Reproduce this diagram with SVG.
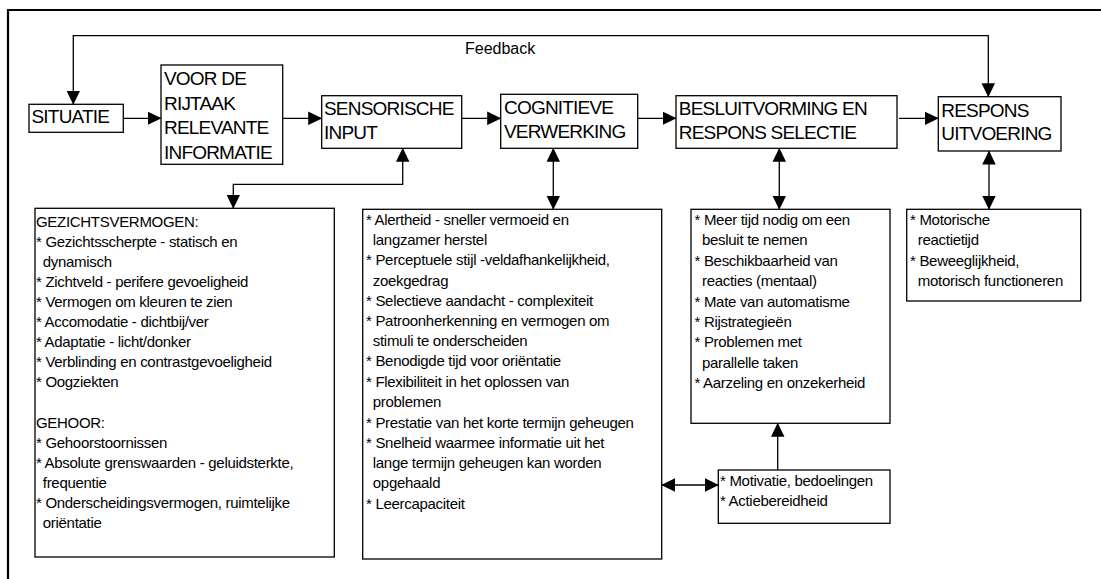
<svg xmlns="http://www.w3.org/2000/svg" width="1101" height="579" viewBox="0 0 1101 579">
<style>
.box{fill:#fff;stroke:#000;stroke-width:1.3}
.frame{fill:none;stroke:#000;stroke-width:2.2}
.con{fill:none;stroke:#000;stroke-width:1.3}
.h{font-family:"Liberation Sans",Arial,sans-serif;font-size:19px;letter-spacing:-0.8px;fill:#000}
.b{font-family:"Liberation Sans",Arial,sans-serif;font-size:15px;letter-spacing:-0.3px;fill:#000}
.fb{font-family:"Liberation Sans",Arial,sans-serif;font-size:16px;fill:#000}
</style>
<defs>
<marker id="ah" markerUnits="userSpaceOnUse" markerWidth="14" markerHeight="14" refX="13.5" refY="6.75" orient="auto-start-reverse" viewBox="0 0 14 13.5">
<path d="M0,0 L14,6.75 L0,13.5 Z" fill="#000"/>
</marker>
</defs>
<rect width="1101" height="579" fill="#fff"/>
<g id="frame">
<path class="frame" d="M8,579 V10 H1101"/>
</g>
<g id="connectors">
<path class="con" d="M73.3,104.3 V35.7 H988.3 V96.7" marker-start="url(#ah)" marker-end="url(#ah)"/>
<text class="fb" x="465" y="54.3">Feedback</text>
<path class="con" d="M123.3,118.3 H161" marker-end="url(#ah)"/>
<path class="con" d="M282.7,118.3 H321.7" marker-end="url(#ah)"/>
<path class="con" d="M461.7,118.3 H500.7" marker-end="url(#ah)"/>
<path class="con" d="M637.7,118.3 H676" marker-end="url(#ah)"/>
<path class="con" d="M899,118.3 H938.3" marker-end="url(#ah)"/>
<path class="con" d="M402.7,148.3 V184.3 H233.3 V208.3" marker-start="url(#ah)" marker-end="url(#ah)"/>
<path class="con" d="M553.3,148.3 V209.3" marker-start="url(#ah)" marker-end="url(#ah)"/>
<path class="con" d="M779.3,148.3 V209.3" marker-start="url(#ah)" marker-end="url(#ah)"/>
<path class="con" d="M989,151 V209.3" marker-start="url(#ah)" marker-end="url(#ah)"/>
<path class="con" d="M777.7,470 V423.3" marker-end="url(#ah)"/>
<path class="con" d="M661.7,485 H718.3" marker-start="url(#ah)" marker-end="url(#ah)"/>
</g>
<g id="situatie">
<rect class="box" x="29" y="104.3" width="94.3" height="28"/>
<text class="h" x="31.5" y="123.3">SITUATIE</text>
</g>
<g id="relevante-informatie">
<rect class="box" x="161" y="65" width="121.7" height="99.3"/>
<text class="h"><tspan x="164" y="85">VOOR DE</tspan><tspan x="164" y="109.5">RIJTAAK</tspan><tspan x="164" y="134">RELEVANTE</tspan><tspan x="164" y="158.5">INFORMATIE</tspan></text>
</g>
<g id="sensorische-input">
<rect class="box" x="321.7" y="95.7" width="140" height="52.6"/>
<text class="h"><tspan x="324" y="115">SENSORISCHE</tspan><tspan x="324" y="139.3">INPUT</tspan></text>
</g>
<g id="cognitieve-verwerking">
<rect class="box" x="500.7" y="94.3" width="137" height="54"/>
<text class="h"><tspan x="504" y="114.3">COGNITIEVE</tspan><tspan x="504" y="137.7">VERWERKING</tspan></text>
</g>
<g id="besluitvorming">
<rect class="box" x="676" y="95.7" width="221" height="52.6"/>
<text class="h"><tspan x="678.8" y="115">BESLUITVORMING EN</tspan><tspan x="678.8" y="139">RESPONS SELECTIE</tspan></text>
</g>
<g id="respons-uitvoering">
<rect class="box" x="938.3" y="96.7" width="122.7" height="54.3"/>
<text class="h"><tspan x="941.3" y="116.7">RESPONS</tspan><tspan x="941.3" y="140">UITVOERING</tspan></text>
</g>
<g id="gezichtsvermogen">
<rect class="box" x="35" y="208.3" width="299.3" height="348.7"/>
<text class="b">
<tspan x="36" y="226.8">GEZICHTSVERMOGEN:</tspan>
<tspan x="36" y="246.8">* Gezichtsscherpte - statisch en</tspan>
<tspan x="42.8" y="266.8">dynamisch</tspan>
<tspan x="36" y="286.8">* Zichtveld - perifere gevoeligheid</tspan>
<tspan x="36" y="306.8">* Vermogen om kleuren te zien</tspan>
<tspan x="36" y="326.8">* Accomodatie - dichtbij/ver</tspan>
<tspan x="36" y="346.8">* Adaptatie - licht/donker</tspan>
<tspan x="36" y="366.8">* Verblinding en contrastgevoeligheid</tspan>
<tspan x="36" y="386.8">* Oogziekten</tspan>
<tspan x="36" y="427.5">GEHOOR:</tspan>
<tspan x="36" y="447.8">* Gehoorstoornissen</tspan>
<tspan x="36" y="467.9">* Absolute grenswaarden - geluidsterkte,</tspan>
<tspan x="42.8" y="487.8">frequentie</tspan>
<tspan x="36" y="508">* Onderscheidingsvermogen, ruimtelijke</tspan>
<tspan x="42.8" y="528">oriëntatie</tspan>
</text>
</g>
<g id="cognitief">
<rect class="box" x="362.7" y="209.3" width="299" height="349.7"/>
<text class="b">
<tspan x="366" y="225">* Alertheid - sneller vermoeid en</tspan>
<tspan x="372.8" y="245.2">langzamer herstel</tspan>
<tspan x="366" y="265.4">* Perceptuele stijl -veldafhankelijkheid,</tspan>
<tspan x="372.8" y="285.6">zoekgedrag</tspan>
<tspan x="366" y="305.8">* Selectieve aandacht - complexiteit</tspan>
<tspan x="366" y="326">* Patroonherkenning en vermogen om</tspan>
<tspan x="372.8" y="346.2">stimuli te onderscheiden</tspan>
<tspan x="366" y="366.4">* Benodigde tijd voor oriëntatie</tspan>
<tspan x="366" y="386.6">* Flexibiliteit in het oplossen van</tspan>
<tspan x="372.8" y="406.8">problemen</tspan>
<tspan x="366" y="427.6">* Prestatie van het korte termijn geheugen</tspan>
<tspan x="366" y="447.8">* Snelheid waarmee informatie uit het</tspan>
<tspan x="372.8" y="468">lange termijn geheugen kan worden</tspan>
<tspan x="372.8" y="488.2">opgehaald</tspan>
<tspan x="366" y="508.6">* Leercapaciteit</tspan>
</text>
</g>
<g id="besluit-factoren">
<rect class="box" x="691" y="209.3" width="199" height="214"/>
<text class="b">
<tspan x="694.5" y="225">* Meer tijd nodig om een</tspan>
<tspan x="702" y="245.4">besluit te nemen</tspan>
<tspan x="694.5" y="265.8">* Beschikbaarheid van</tspan>
<tspan x="702" y="286.2">reacties (mentaal)</tspan>
<tspan x="694.5" y="306.6">* Mate van automatisme</tspan>
<tspan x="694.5" y="327">* Rijstrategieën</tspan>
<tspan x="694.5" y="347.4">* Problemen met</tspan>
<tspan x="702" y="367.8">parallelle taken</tspan>
<tspan x="694.5" y="388.2">* Aarzeling en onzekerheid</tspan>
</text>
</g>
<g id="motivatie">
<rect class="box" x="718.3" y="470" width="171.7" height="53.3"/>
<text class="b">
<tspan x="720" y="485.7">* Motivatie, bedoelingen</tspan>
<tspan x="720" y="506">* Actiebereidheid</tspan>
</text>
</g>
<g id="motorisch">
<rect class="box" x="906.7" y="209.3" width="174" height="91.7"/>
<text class="b">
<tspan x="910" y="225">* Motorische</tspan>
<tspan x="917.8" y="245.3">reactietijd</tspan>
<tspan x="910" y="265.6">* Beweeglijkheid,</tspan>
<tspan x="917.8" y="286">motorisch functioneren</tspan>
</text>
</g>
</svg>
